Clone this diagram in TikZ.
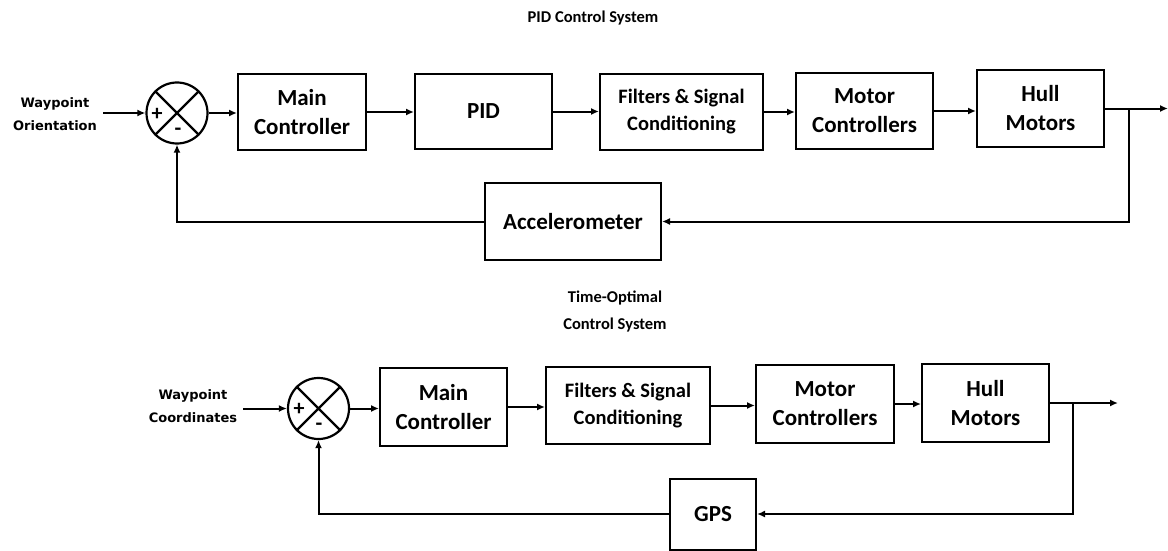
\documentclass[tikz,border=0pt]{standalone}
\usepackage{fontspec}
\setmainfont{Carlito}
\newfontfamily\lblfont{DejaVu Sans}
\usetikzlibrary{arrows.meta}
\begin{document}
\begin{tikzpicture}[x=1pt,y=-1pt,
  blk/.style={draw, line width=2pt, align=center, inner sep=0pt,
    font=\bfseries\fontsize{23}{29}\selectfont},
  blksm/.style={blk, font=\bfseries\fontsize{20.5}{27}\selectfont},
  sumjn/.style={draw, circle, line width=2.2pt, minimum size=61pt, inner sep=0pt},
  sig/.style={line width=2pt, -{Latex[length=8pt,width=7pt]}},
  wire/.style={line width=2.2pt},
  ttl/.style={align=center, font=\bfseries\fontsize{16.5}{27}\selectfont},
  inlbl/.style={align=center, inner sep=6pt,
    font=\lblfont\bfseries\fontsize{13}{23}\selectfont},
  sgn/.style={font=\bfseries\fontsize{22}{22}\selectfont, inner sep=0pt}
]
\useasboundingbox (0,0) rectangle (1168,551);

% ---------- PID control loop ----------
\node[ttl] (t1) at (593,18) {PID Control System};

\node[inlbl] (in1) at (55,114) {Waypoint\\Orientation};
\node[sumjn] (s1) at (177,113) {};
\draw[wire] (s1.45) -- (s1.225) (s1.135) -- (s1.315);
\node[sgn] (p1) at (157,114) {+};
\node[sgn] (n1) at (178,132) {-};

\node[blk, minimum width=128pt, minimum height=76pt] (m1) at (302,112) {Main\\Controller};
\node[blk, minimum width=137pt, minimum height=75pt] (pid) at (483.5,111.5) {PID};
\node[blksm, minimum width=163pt, minimum height=76pt] (f1) at (681.5,112) {Filters \& Signal\\Conditioning};
\node[blk, minimum width=137pt, minimum height=76pt] (mc1) at (864.5,111) {Motor\\Controllers};
\node[blk, minimum width=127pt, minimum height=77pt] (h1) at (1040.5,108.5) {Hull\\Motors};
\node[blk, minimum width=176pt, minimum height=77pt] (acc) at (573,221.5) {Accelerometer};

\coordinate (out1) at (1168,108.5);
\coordinate (br1) at (1129,0);

\draw[sig] (in1.east |- s1.west) -- (s1.west);
\draw[sig] (s1.east) -- (s1.east -| m1.west);
\draw[sig] (m1.east) -- (m1.east -| pid.west);
\draw[sig] (pid.east) -- (pid.east -| f1.west);
\draw[sig] (f1.east) -- (f1.east -| mc1.west);
\draw[sig] (mc1.east) -- (mc1.east -| h1.west);
\draw[sig] (h1.east) -- (out1);
\draw[sig] (h1.east -| br1) |- (acc.east);
\draw[sig] (acc.west) -| (s1.south);

% ---------- Time-optimal control loop ----------
\node[ttl] (t2) at (615,311) {Time-Optimal\\Control System};

\node[inlbl] (in2) at (193,406) {Waypoint\\Coordinates};
\node[sumjn] (s2) at (318.5,408.5) {};
\draw[wire] (s2.45) -- (s2.225) (s2.135) -- (s2.315);
\node[sgn] (p2) at (299,409) {+};
\node[sgn] (n2) at (319,427) {-};

\node[blk, minimum width=127pt, minimum height=78pt] (m2) at (443.5,407) {Main\\Controller};
\node[blksm, minimum width=164pt, minimum height=77pt] (f2) at (628,405.5) {Filters \& Signal\\Conditioning};
\node[blk, minimum width=138pt, minimum height=78pt] (mc2) at (825,404) {Motor\\Controllers};
\node[blk, minimum width=127pt, minimum height=78pt] (h2) at (985.5,403) {Hull\\Motors};
\node[blk, minimum width=86pt, minimum height=71pt] (gps) at (713,514) {GPS};

\coordinate (out2) at (1118,403);
\coordinate (br2) at (1073,0);

\draw[sig] (in2.east |- s2.west) -- (s2.west);
\draw[sig] (s2.east) -- (s2.east -| m2.west);
\draw[sig] (m2.east) -- (m2.east -| f2.west);
\draw[sig] (f2.east) -- (f2.east -| mc2.west);
\draw[sig] (mc2.east) -- (mc2.east -| h2.west);
\draw[sig] (h2.east) -- (out2);
\draw[sig] (h2.east -| br2) |- (gps.east);
\draw[sig] (gps.west) -| (s2.south);
\end{tikzpicture}
\end{document}
